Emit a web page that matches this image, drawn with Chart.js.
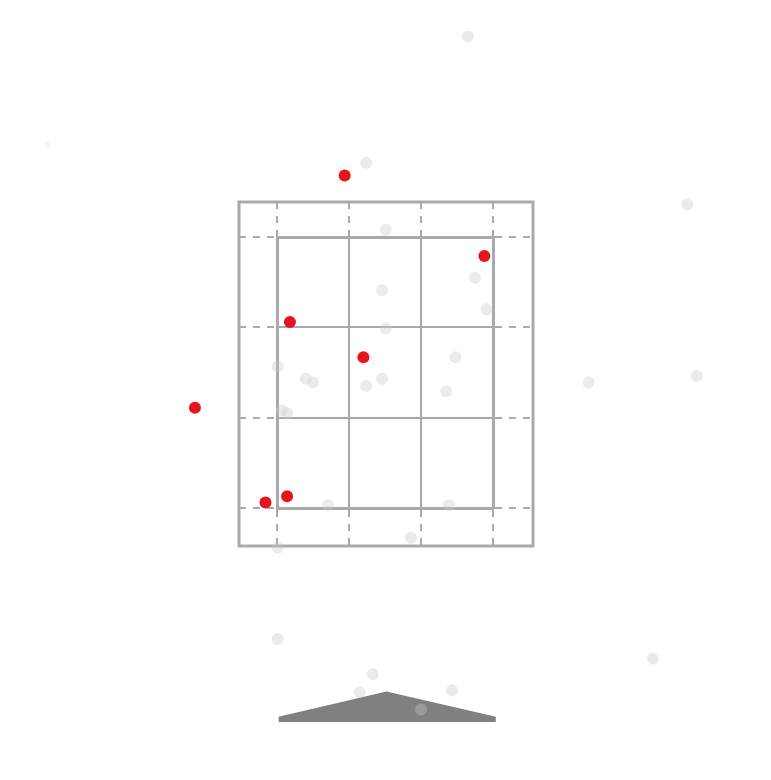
<!DOCTYPE html>
<html>
<head>
<meta charset="utf-8">
<script src="https://cdn.jsdelivr.net/npm/chart.js@4/dist/chart.umd.min.js"></script>
<style>
  html, body { margin: 0; padding: 0; background: #fff; }
  canvas { display: block; }
</style>
</head>
<body>
<canvas id="plot" width="771" height="780"></canvas>
<script>
// tick positions on both axes
const xTicks = [0, 1, 2, 3];
const yTicks = [0, 1, 2, 3];

// highlighted points (red)
const redX = [0.94, 2.88, 0.18, 1.20, -1.14, 0.14, -0.16];
const redY = [3.68, 2.79, 2.06, 1.67, 1.11, 0.13, 0.06];

// background points (light gray)
const grayX = [2.65, 1.24, 5.70, 1.51, 1.46, 2.75, 2.91, 1.51, 2.48, 0.01, 0.40, 0.50, 1.46, 1.24, 2.35, 4.33, 5.83, 0.07, 0.14, 0.71, 2.39, 1.86, 0.01, 0.01, 5.22, 1.33, 1.15, 2.43, 2.00];
const grayY = [5.22, 3.82, 3.36, 3.08, 2.41, 2.55, 2.20, 1.99, 1.67, 1.57, 1.43, 1.39, 1.43, 1.35, 1.29, 1.39, 1.46, 1.08, 1.05, 0.03, 0.03, -0.33, -0.44, -1.45, -1.67, -1.84, -2.04, -2.02, -2.23];

// one very faint point far left
const faintX = [-3.19];
const faintY = [4.02];

// gray wedge at the bottom
const wedgeX = [0.02, 1.52, 3.04];
const wedgeY = [-2.31, -2.03, -2.31];
const wedgeBase = -2.37;

const lineGray = '#aaaaaa';

function pts(xs, ys) {
  return xs.map((x, i) => ({ x: x, y: ys[i] }));
}

// outer frame around the tick area
const framePlugin = {
  id: 'frame',
  beforeDatasetsDraw(chart) {
    const s = chart.scales;
    const c = chart.ctx;
    c.save();
    c.strokeStyle = lineGray;
    c.lineWidth = 3;
    c.strokeRect(s.y.left, s.x2.top, s.y2.right - s.y.left, s.x.bottom - s.x2.top);
    c.restore();
  }
};

// points lie outside the plot box too: let the datasets use the whole canvas
const openArea = {
  id: 'openArea',
  beforeDatasetsDraw(chart) {
    chart._savedArea = chart.chartArea;
    chart.chartArea = { left: 0, top: 0, right: chart.width, bottom: chart.height, width: chart.width, height: chart.height };
  },
  afterDatasetsDraw(chart) {
    chart.chartArea = chart._savedArea;
  }
};

function axis(pos, tickLength, onArea) {
  return {
    type: 'linear',
    position: pos,
    min: 0,
    max: 3,
    afterBuildTicks: (sc) => {
      const src = (pos === 'bottom' || pos === 'top') ? xTicks : yTicks;
      sc.ticks = src.map(v => ({ value: v }));
    },
    ticks: { display: false },
    grid: {
      color: lineGray,
      lineWidth: 2,
      drawOnChartArea: onArea,
      drawTicks: true,
      tickLength: tickLength,
      tickColor: lineGray,
      tickWidth: 2,
      tickBorderDash: [7, 7]
    },
    border: { display: true, color: lineGray, width: 3 }
  };
}

new Chart(document.getElementById('plot'), {
  type: 'scatter',
  data: {
    datasets: [
      {
        data: pts(redX, redY),
        backgroundColor: '#e6141e',
        borderWidth: 0,
        pointRadius: 6,
        clip: false
      },
      {
        data: pts(grayX, grayY),
        backgroundColor: 'rgba(200,200,200,0.36)',
        borderWidth: 0,
        pointRadius: 6,
        clip: false
      },
      {
        data: pts(faintX, faintY),
        backgroundColor: 'rgba(220,220,220,0.3)',
        borderWidth: 0,
        pointRadius: 3,
        clip: false
      },
      {
        type: 'line',
        data: pts(wedgeX, wedgeY),
        backgroundColor: '#808080',
        borderColor: '#808080',
        borderWidth: 0,
        pointRadius: 0,
        tension: 0,
        fill: { value: wedgeBase },
        clip: false
      }
    ]
  },
  options: {
    responsive: false,
    devicePixelRatio: 1,
    animation: false,
    events: [],
    layout: { padding: { left: 239, right: 238, top: 202, bottom: 234 } },
    plugins: {
      legend: { display: false },
      tooltip: { enabled: false }
    },
    scales: {
      x: axis('bottom', 38, true),
      x2: axis('top', 35, false),
      y: axis('left', 38, true),
      y2: axis('right', 40, false)
    }
  },
  plugins: [framePlugin, openArea]
});
</script>
</body>
</html>
